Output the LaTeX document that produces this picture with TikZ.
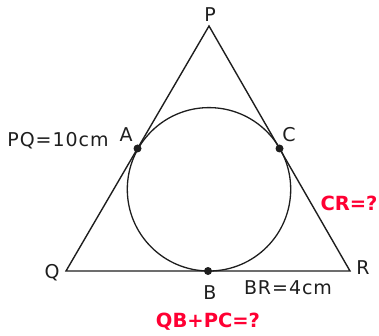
\documentclass[tikz,border=0pt]{standalone}
\usepackage{fontspec}
\setmainfont{DejaVu Sans}
\newfontfamily\lblfont{DejaVu Sans}[LetterSpace=5]
\usepackage{xcolor}
\definecolor{cLine}{HTML}{1E1E1E}
\definecolor{cAsk}{HTML}{FF0033}
\usepackage{tikz}
\usetikzlibrary{calc}
\tikzset{
  side-line/.style={draw=cLine,line width=1.4pt,line join=miter},
  in-circle/.style={draw=cLine,line width=1.3pt},
  touch-dot/.style={fill=cLine,circle,inner sep=0pt,minimum size=8pt},
  pt-label/.style={anchor=base,inner sep=0pt,text=cLine,
    font=\lblfont\fontsize{19}{21}\selectfont},
  ask-label/.style={anchor=base,inner sep=0pt,text=cAsk,
    font=\bfseries\fontsize{19.5}{21}\selectfont},
}

\begin{document}
\begin{tikzpicture}[x=1pt,y=-1pt]
  \useasboundingbox (0,0) rectangle (379,336);
  \coordinate (P) at (209,26);
  \coordinate (Q) at (66,271);
  \coordinate (R) at (350,271);
  \coordinate (O) at (209,189.3);
  \coordinate (A) at ($(P)!0.5!(Q)$);
  \coordinate (C) at ($(P)!0.5!(R)$);
  \coordinate (B) at ($(Q)!0.5!(R)$);
  \draw[in-circle] (O) circle (81.7);
  \draw[side-line] (P) -- (Q) -- (R) -- cycle;
  \node[touch-dot] (dotA) at (A) {};
  \node[touch-dot] (dotB) at (B) {};
  \node[touch-dot] (dotC) at (C) {};
  % labels
  \node[pt-label] (labP) at (210,22) {P};
  \node[pt-label] (labA) at (126,142) {A};
  \node[pt-label] (labC) at (289,142) {C};
  \node[pt-label] (labQ) at (52,278) {Q};
  \node[pt-label] (labR) at (363,274) {R};
  \node[pt-label] (labB) at (210,299) {B};
  \node[pt-label] (pq) at (58,147) {PQ=10cm};
  \node[pt-label] (br) at (288,294) {BR=4cm};
  \node[ask-label] (cr) at (349,211) {CR=?};
  \node[ask-label] (qbpc) at (208,327) {QB+PC=?};
\end{tikzpicture}
\end{document}
